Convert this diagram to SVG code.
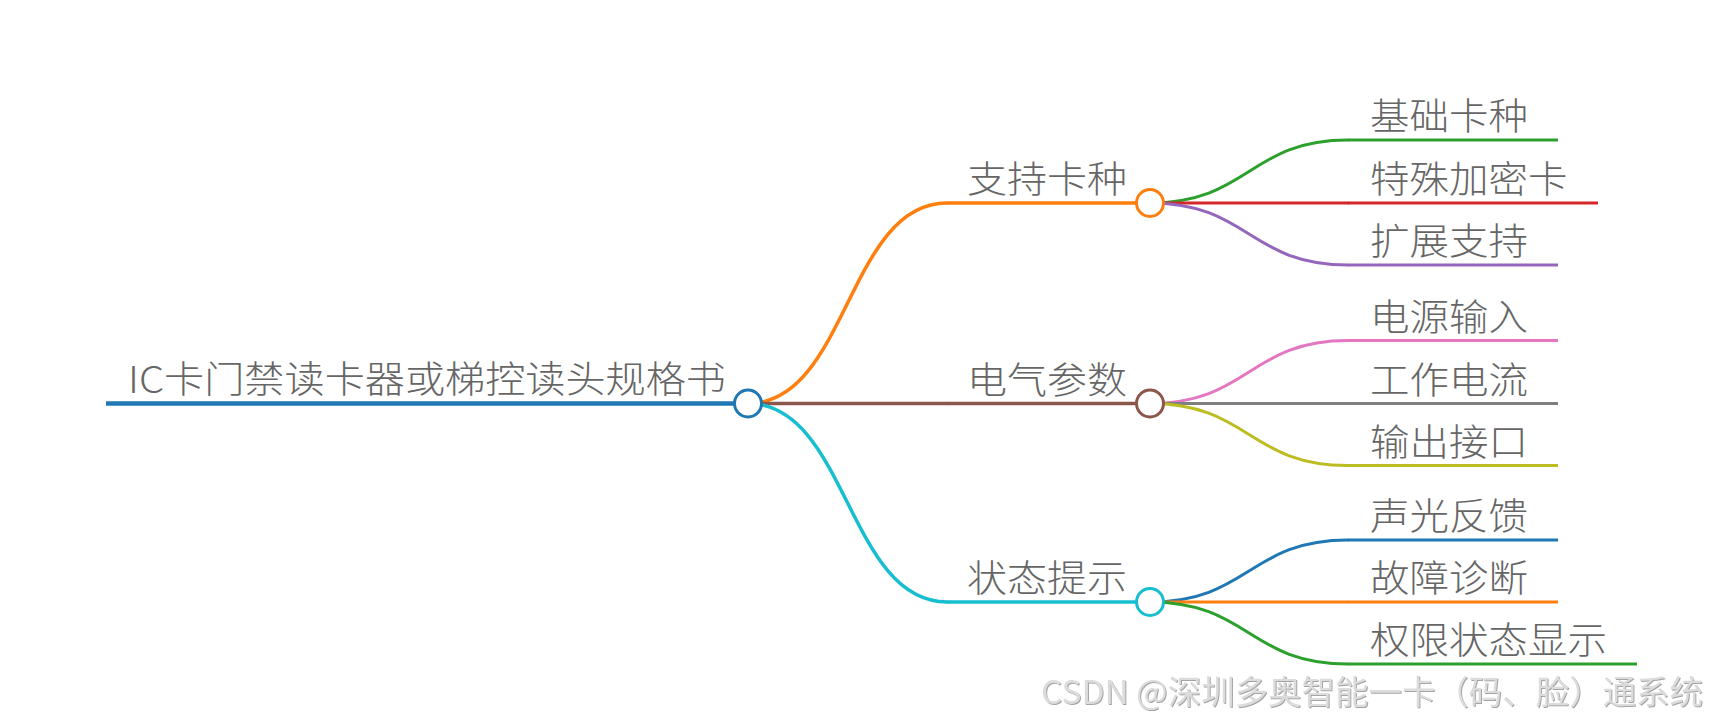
<svg xmlns="http://www.w3.org/2000/svg" width="1710" height="726" viewBox="0 0 1710 726">
<style>
  .t{font-family:"Noto Sans CJK SC","Noto Sans",sans-serif;font-weight:300;fill:#666;font-size:37px}
  .lk{fill:none;stroke-linecap:round}
  .c{fill:#fff;stroke-width:3}
  .wm{font-family:"Noto Sans CJK SC","Liberation Sans",sans-serif;font-size:33px;fill:#dcdcdc}
</style>
<defs>
  <filter id="sh" x="-5%" y="-20%" width="110%" height="140%">
    <feDropShadow dx="1" dy="1" stdDeviation="0.6" flood-color="#9a9a9a" flood-opacity="0.9"/>
  </filter>
</defs>
<rect width="1710" height="726" fill="#fff"/>
<g id="connectors">
  <path class="lk" d="M748,403.5 C847.5,403.5 847.5,203 947,203" stroke="#ff7f0e" stroke-width="3.5"/>
  <path class="lk" d="M748,403.5 H947" stroke="#8c564b" stroke-width="3.5"/>
  <path class="lk" d="M748,403.5 C847.5,403.5 847.5,602 947,602" stroke="#17becf" stroke-width="3.5"/>
  <path class="lk" d="M1150,203 C1249,203 1249,140 1348,140" stroke="#2ca02c" stroke-width="3"/>
  <path class="lk" d="M1150,203 H1348" stroke="#d62728" stroke-width="3"/>
  <path class="lk" d="M1150,203 C1249,203 1249,265 1348,265" stroke="#9467bd" stroke-width="3"/>
  <path class="lk" d="M1150,403.5 C1249,403.5 1249,340.5 1348,340.5" stroke="#e377c2" stroke-width="3"/>
  <path class="lk" d="M1150,403.5 H1348" stroke="#7f7f7f" stroke-width="3"/>
  <path class="lk" d="M1150,403.5 C1249,403.5 1249,465.5 1348,465.5" stroke="#bcbd22" stroke-width="3"/>
  <path class="lk" d="M1150,602 C1249,602 1249,540 1348,540" stroke="#1f77b4" stroke-width="3"/>
  <path class="lk" d="M1150,602 H1348" stroke="#ff7f0e" stroke-width="3"/>
  <path class="lk" d="M1150,602 C1249,602 1249,664 1348,664" stroke="#2ca02c" stroke-width="3"/>
</g>
<g id="root">
  <path d="M106,403.5 H748" stroke="#1f77b4" stroke-width="4.5"/>
  <text class="t" x="128" y="393" textLength="598" lengthAdjust="spacingAndGlyphs">IC卡门禁读卡器或梯控读头规格书</text>
  <circle class="c" cx="748" cy="403.5" r="13.5" stroke="#1f77b4"/>
</g>
<g id="n1">
  <path d="M947,203 H1150" stroke="#ff7f0e" stroke-width="3.5"/>
  <text class="t" x="967" y="193" textLength="160" lengthAdjust="spacingAndGlyphs">支持卡种</text>
  <circle class="c" cx="1150" cy="203" r="13.5" stroke="#ff7f0e"/>
</g>
<g id="n2">
  <path d="M947,403.5 H1150" stroke="#8c564b" stroke-width="3.5"/>
  <text class="t" x="967" y="393.5" textLength="160" lengthAdjust="spacingAndGlyphs">电气参数</text>
  <circle class="c" cx="1150" cy="403.5" r="13.5" stroke="#8c564b"/>
</g>
<g id="n3">
  <path d="M947,602 H1150" stroke="#17becf" stroke-width="3.5"/>
  <text class="t" x="967" y="592" textLength="160" lengthAdjust="spacingAndGlyphs">状态提示</text>
  <circle class="c" cx="1150" cy="602" r="13.5" stroke="#17becf"/>
</g>
<g id="l1"><path d="M1348,140 H1558" stroke="#2ca02c" stroke-width="3"/><text class="t" x="1370" y="130" textLength="158" lengthAdjust="spacingAndGlyphs">基础卡种</text></g>
<g id="l2"><path d="M1348,203 H1598" stroke="#d62728" stroke-width="3"/><text class="t" x="1370" y="193" textLength="197.5" lengthAdjust="spacingAndGlyphs">特殊加密卡</text></g>
<g id="l3"><path d="M1348,265 H1558" stroke="#9467bd" stroke-width="3"/><text class="t" x="1370" y="255" textLength="158" lengthAdjust="spacingAndGlyphs">扩展支持</text></g>
<g id="l4"><path d="M1348,340.5 H1558" stroke="#e377c2" stroke-width="3"/><text class="t" x="1370" y="330.5" textLength="158" lengthAdjust="spacingAndGlyphs">电源输入</text></g>
<g id="l5"><path d="M1348,403.5 H1558" stroke="#7f7f7f" stroke-width="3"/><text class="t" x="1370" y="393.5" textLength="158" lengthAdjust="spacingAndGlyphs">工作电流</text></g>
<g id="l6"><path d="M1348,465.5 H1558" stroke="#bcbd22" stroke-width="3"/><text class="t" x="1370" y="455.5" textLength="158" lengthAdjust="spacingAndGlyphs">输出接口</text></g>
<g id="l7"><path d="M1348,540 H1558" stroke="#1f77b4" stroke-width="3"/><text class="t" x="1370" y="530" textLength="158" lengthAdjust="spacingAndGlyphs">声光反馈</text></g>
<g id="l8"><path d="M1348,602 H1558" stroke="#ff7f0e" stroke-width="3"/><text class="t" x="1370" y="592" textLength="158" lengthAdjust="spacingAndGlyphs">故障诊断</text></g>
<g id="l9"><path d="M1348,664 H1637" stroke="#2ca02c" stroke-width="3"/><text class="t" x="1370" y="654" textLength="237" lengthAdjust="spacingAndGlyphs">权限状态显示</text></g>
<g id="watermark">
  <text class="wm" x="1041" y="704" textLength="662" lengthAdjust="spacingAndGlyphs" filter="url(#sh)">CSDN @深圳多奥智能一卡（码、脸）通系统</text>
</g>
</svg>
